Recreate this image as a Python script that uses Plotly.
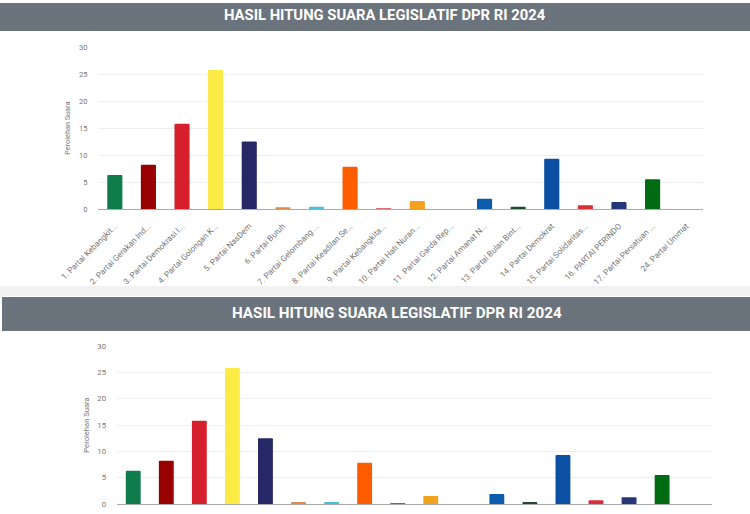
import plotly.graph_objects as go

W, H = 750, 514

parties = [
    "1. Partai Kebangkit...", "2. Partai Gerakan Ind...", "3. Partai Demokrasi I...",
    "4. Partai Golongan K...", "5. Partai NasDem", "6. Partai Buruh",
    "7. Partai Gelombang ...", "8. Partai Keadilan Se...", "9. Partai Kebangkita...",
    "10. Partai Hati Nuran...", "11. Partai Garda Rep...", "12. Partai Amanat N...",
    "13. Partai Bulan Bint...", "14. Partai Demokrat", "15. Partai Solidaritas...",
    "16. PARTAI PERINDO", "17. Partai Persatuan ...", "24. Partai Ummat",
]
votes = [6.3, 8.2, 15.8, 25.8, 12.5, 0.3, 0.4, 7.85, 0.1, 1.5, 0.0, 1.9,
         0.4, 9.3, 0.7, 1.3, 5.5, 0.0]
colors = ["#0e7c4b", "#990000", "#d61f2c", "#fdeb45", "#262866", "#e08a4c",
          "#46c1de", "#ff5c00", "#cf4048", "#f2a21c", "#888888", "#0c5cae",
          "#1e4a2e", "#0b50a2", "#da2e3a", "#263678", "#006b12", "#cccccc"]

title_text = "HASIL HITUNG SUARA LEGISLATIF DPR RI 2024"
ytitle = "Perolehan Suara"
yticks = [0, 5, 10, 15, 20, 25, 30]


def py(px):
    return 1 - px / H


def px_x(px):
    return px / W


fig = go.Figure()
fig.add_trace(go.Bar(x=parties, y=votes, marker=dict(color=colors, cornerradius=1, line=dict(width=0)),
                     xaxis="x", yaxis="y", showlegend=False, hoverinfo="skip"))
fig.add_trace(go.Bar(x=parties, y=votes, marker=dict(color=colors, cornerradius=1, line=dict(width=0)),
                     xaxis="x2", yaxis="y2", showlegend=False, hoverinfo="skip"))

grid = "#eeeeee"
txtcol = "#777777"
clear = "rgba(0,0,0,0)"

fig.update_layout(
    width=W, height=H, autosize=False,
    margin=dict(l=0, r=0, t=0, b=0, pad=0, autoexpand=False),
    paper_bgcolor="white", plot_bgcolor="white",
    bargap=0.55,
    font=dict(family="Roboto"),
    xaxis=dict(domain=[px_x(98), px_x(703)], anchor="y", tickangle=-45, automargin=False,
               tickfont=dict(family="Roboto", size=8.2, color=txtcol), showgrid=False,
               showline=True, linecolor="#aaaaaa", linewidth=1.2,
               ticks="outside", ticklen=8, tickcolor=clear),
    yaxis=dict(domain=[py(209), py(47.3)], anchor="x", range=[0, 30], tickvals=yticks,
               automargin=False, ticks="outside", ticklen=8, tickcolor=clear,
               tickfont=dict(family="Roboto", size=7.5, color=txtcol), gridcolor=grid,
               zeroline=False, showline=False,
               title=dict(text=ytitle, font=dict(family="Roboto", size=7.3, color=txtcol), standoff=7)),
    xaxis2=dict(domain=[px_x(116.7), px_x(711.7)], anchor="y2", showticklabels=False, automargin=False,
                showgrid=False, showline=True, linecolor="#aaaaaa", linewidth=1.2),
    yaxis2=dict(domain=[py(504), py(346)], anchor="x2", range=[0, 30], tickvals=yticks,
                automargin=False, ticks="outside", ticklen=8, tickcolor=clear,
                tickfont=dict(family="Roboto", size=7.8, color=txtcol), gridcolor=grid,
                zeroline=False, showline=False,
                title=dict(text=ytitle, font=dict(family="Roboto", size=7.6, color=txtcol), standoff=6)),
    shapes=[
        dict(type="rect", xref="paper", yref="paper", x0=0, x1=1, y0=py(31), y1=py(3),
             fillcolor="#6b737c", line=dict(width=0), layer="below"),
        dict(type="rect", xref="paper", yref="paper", x0=0, x1=1, y0=py(296), y1=py(286),
             fillcolor="#f1f1f1", line=dict(width=0), layer="below"),
        dict(type="rect", xref="paper", yref="paper", x0=px_x(2), x1=1, y0=py(331), y1=py(297),
             fillcolor="#6b737c", line=dict(width=0), layer="below"),
    ],
    annotations=[
        dict(text="<b>" + title_text + "</b>", xref="paper", yref="paper", x=px_x(385), y=py(15),
             xanchor="center", yanchor="middle", showarrow=False,
             font=dict(family="Roboto", size=14.8, color="white")),
        dict(text="<b>" + title_text + "</b>", xref="paper", yref="paper", x=px_x(397), y=py(313),
             xanchor="center", yanchor="middle", showarrow=False,
             font=dict(family="Roboto", size=15.2, color="white")),
    ],
)

fig.write_html("out.html", config={"displayModeBar": False},
               post_script="document.body.style.margin='0';document.body.style.overflow='hidden';")
